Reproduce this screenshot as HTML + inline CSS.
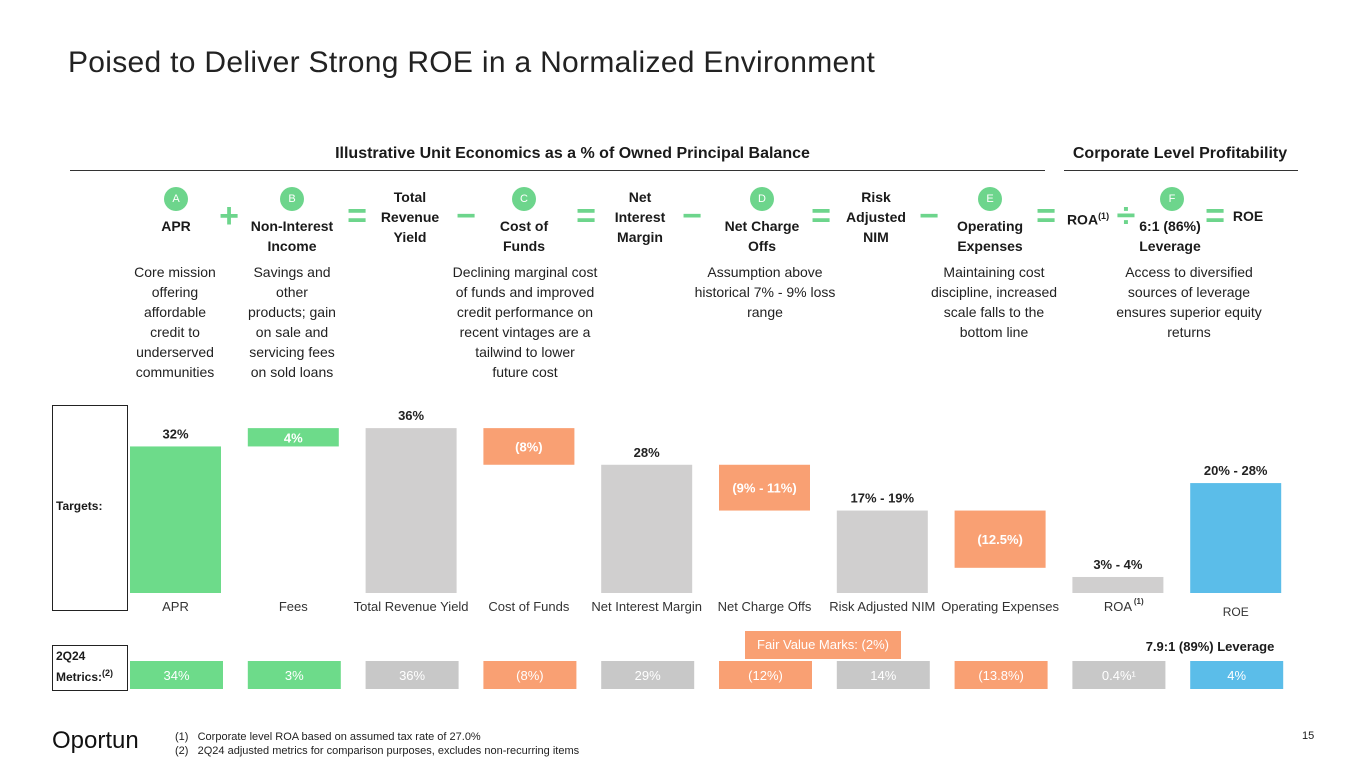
<!DOCTYPE html>
<html><head><meta charset="utf-8">
<style>
body{margin:0;width:1365px;height:768px;background:#fff;position:relative;overflow:hidden;font-family:"Liberation Sans",sans-serif;color:#1a1a1a}
.a{position:absolute}
.t{font-size:14px;font-weight:bold;text-align:center;line-height:20px}
.d{font-size:14px;text-align:center;line-height:20px;color:#222;white-space:nowrap}
.c{position:absolute;width:24px;height:24px;border-radius:12px;background:#6dd58c;color:#fff;font-size:11px;text-align:center;line-height:24px}
.op{position:absolute;color:#6dd58c;font-size:34px;font-weight:bold;line-height:20px;text-align:center;width:30px}
sup{font-size:9px}
</style></head><body>
<div class="a" style="left:68px;top:46px;font-size:30px;color:#222;letter-spacing:0.3px">Poised to Deliver Strong ROE in a Normalized Environment</div>
<div class="a" style="left:70px;top:145px;width:1005px;text-align:center;font-size:16px;font-weight:bold">Illustrative Unit Economics as a % of Owned Principal Balance</div>
<div class="a" style="left:70px;top:170px;width:975px;height:1px;background:#333"></div>
<div class="a" style="left:1062px;top:145px;width:236px;text-align:center;font-size:16px;font-weight:bold">Corporate Level Profitability</div>
<div class="a" style="left:1064px;top:170px;width:234px;height:1px;background:#333"></div>

<div class="c" style="left:164px;top:187px">A</div>
<div class="c" style="left:280px;top:187px">B</div>
<div class="c" style="left:512px;top:187px">C</div>
<div class="c" style="left:750px;top:187px">D</div>
<div class="c" style="left:978px;top:187px">E</div>
<div class="c" style="left:1160px;top:187px">F</div>

<div class="a t" style="left:126px;top:216px;width:100px">APR</div>
<div class="a t" style="left:232px;top:216px;width:120px">Non-Interest<br>Income</div>
<div class="a t" style="left:360px;top:187px;width:100px">Total<br>Revenue<br>Yield</div>
<div class="a t" style="left:474px;top:216px;width:100px">Cost of<br>Funds</div>
<div class="a t" style="left:590px;top:187px;width:100px">Net<br>Interest<br>Margin</div>
<div class="a t" style="left:707px;top:216px;width:110px">Net Charge<br>Offs</div>
<div class="a t" style="left:826px;top:187px;width:100px">Risk<br>Adjusted<br>NIM</div>
<div class="a t" style="left:935px;top:216px;width:110px">Operating<br>Expenses</div>
<div class="a t" style="left:1058px;top:206px;width:60px">ROA<sup>(1)</sup></div>
<div class="a t" style="left:1120px;top:216px;width:100px">6:1 (86%)<br>Leverage</div>
<div class="a t" style="left:1228px;top:206px;width:40px">ROE</div>

<div class="op" style="left:214px;top:206px">+</div>
<div class="op" style="left:342px;top:206px">=</div>
<div class="op" style="left:451px;top:206px">−</div>
<div class="op" style="left:571px;top:206px">=</div>
<div class="op" style="left:677px;top:206px">−</div>
<div class="op" style="left:806px;top:206px">=</div>
<div class="op" style="left:914px;top:206px">−</div>
<div class="op" style="left:1031px;top:206px">=</div>
<div class="op" style="left:1111px;top:206px">÷</div>
<div class="op" style="left:1200px;top:206px">=</div>

<div class="a d" style="left:115px;top:262px;width:120px">Core mission<br>offering<br>affordable<br>credit to<br>underserved<br>communities</div>
<div class="a d" style="left:232px;top:262px;width:120px">Savings and<br>other<br>products; gain<br>on sale and<br>servicing fees<br>on sold loans</div>
<div class="a d" style="left:425px;top:262px;width:200px">Declining marginal cost<br>of funds and improved<br>credit performance on<br>recent vintages are a<br>tailwind to lower<br>future cost</div>
<div class="a d" style="left:665px;top:262px;width:200px">Assumption above<br>historical 7% - 9% loss<br>range</div>
<div class="a d" style="left:904px;top:262px;width:180px">Maintaining cost<br>discipline, increased<br>scale falls to the<br>bottom line</div>
<div class="a d" style="left:1089px;top:262px;width:200px">Access to diversified<br>sources of leverage<br>ensures superior equity<br>returns</div>

<div class="a" style="left:52px;top:405px;width:74px;height:204px;border:1px solid #222"></div>
<div class="a" style="left:56px;top:499px;font-size:12px;font-weight:bold">Targets:</div>
<div class="a" style="left:52px;top:645px;width:74px;height:44px;border:1px solid #222"></div>
<div class="a" style="left:56px;top:648px;font-size:12px;font-weight:bold;line-height:17px">2Q24<br>Metrics:<sup>(2)</sup></div>

<svg class="a" id="chart" style="left:0;top:0" width="1365" height="768"></svg>

<div class="a" style="left:745px;top:631px;width:156px;height:28px;background:#f9a073;color:#fff;font-size:13px;text-align:center;line-height:28px">Fair Value Marks: (2%)</div>
<div class="a" style="left:1110px;top:639px;width:200px;font-size:13px;font-weight:bold;text-align:center">7.9:1 (89%) Leverage</div>

<div class="a" style="left:52px;top:727px;font-size:24px;color:#111;letter-spacing:0px">Oportun</div>
<div class="a" style="left:175px;top:730px;font-size:11px;line-height:14px;color:#222">(1)&nbsp;&nbsp;&nbsp;Corporate level ROA based on assumed tax rate of 27.0%<br>(2)&nbsp;&nbsp;&nbsp;2Q24 adjusted metrics for comparison purposes, excludes non-recurring items</div>
<div class="a" style="left:1302px;top:730px;font-size:11px">15</div>

<script>
const categories=["APR","Fees","Total Revenue Yield","Cost of Funds","Net Interest Margin","Net Charge Offs","Risk Adjusted NIM","Operating Expenses","ROA","ROE"];
const barStart=[0,32,0,36,0,28,0,18,0,0];
const barEnd=[32,36,36,28,28,18,18,5.5,3.5,24];
const targetLabels=["32%","4%","36%","(8%)","28%","(9% - 11%)","17% - 19%","(12.5%)","3% - 4%","20% - 28%"];
const labelInside=[false,true,false,true,false,true,false,true,false,false];
const barKind=["g","g","s","o","s","o","s","o","s","b"];
const metricLabels=["34%","3%","36%","(8%)","29%","(12%)","14%","(13.8%)","0.4%¹","4%"];
const colors={g:"#6ddb8a",s:"#d0cfcf",o:"#f9a073",b:"#5bbde9"};
const mcolors={g:"#6ddb8a",s:"#c8c8c8",o:"#f9a073",b:"#5bbde9"};
const NS="http://www.w3.org/2000/svg";
const svg=document.getElementById('chart');
const x0=130,step=117.8,bw=91,base=593,k=4.58;
const xPos=i=>x0+i*step;
const yPos=v=>base-v*k;
function mk(t,a){const e=document.createElementNS(NS,t);for(const n in a)e.setAttribute(n,a[n]);svg.appendChild(e);return e;}
categories.forEach((c,i)=>{
  const top=yPos(Math.max(barStart[i],barEnd[i])),bot=yPos(Math.min(barStart[i],barEnd[i]));
  const r=mk('rect',{x:xPos(i),y:top,width:bw,height:bot-top,fill:colors[barKind[i]]});
  
  
  const tl=mk('text',{x:xPos(i)+bw/2,y:labelInside[i]?(top+bot)/2+5:top-8,'text-anchor':'middle','font-size':13,'font-weight':'bold',fill:labelInside[i]?'#fff':'#222'});
  tl.textContent=targetLabels[i];
  
  
  const cl=mk('text',{x:xPos(i)+bw/2,y:i==9?616:611,'text-anchor':'middle','font-size':i==9?12:13,fill:'#333'});
  cl.textContent=c;
  
  
  if(i==8){const s=mk('text',{x:xPos(i)+bw/2+16,y:604,'font-size':8,'font-weight':'bold',fill:'#333'});s.textContent='(1)';}
  const mr=mk('rect',{x:xPos(i),y:661,width:bw+2,height:28,fill:mcolors[barKind[i]]});
  
  
  const mt=mk('text',{x:xPos(i)+bw/2+1,y:680,'text-anchor':'middle','font-size':13,fill:'#fff'});
  mt.textContent=metricLabels[i];
  
  
});
</script>
</body></html>
